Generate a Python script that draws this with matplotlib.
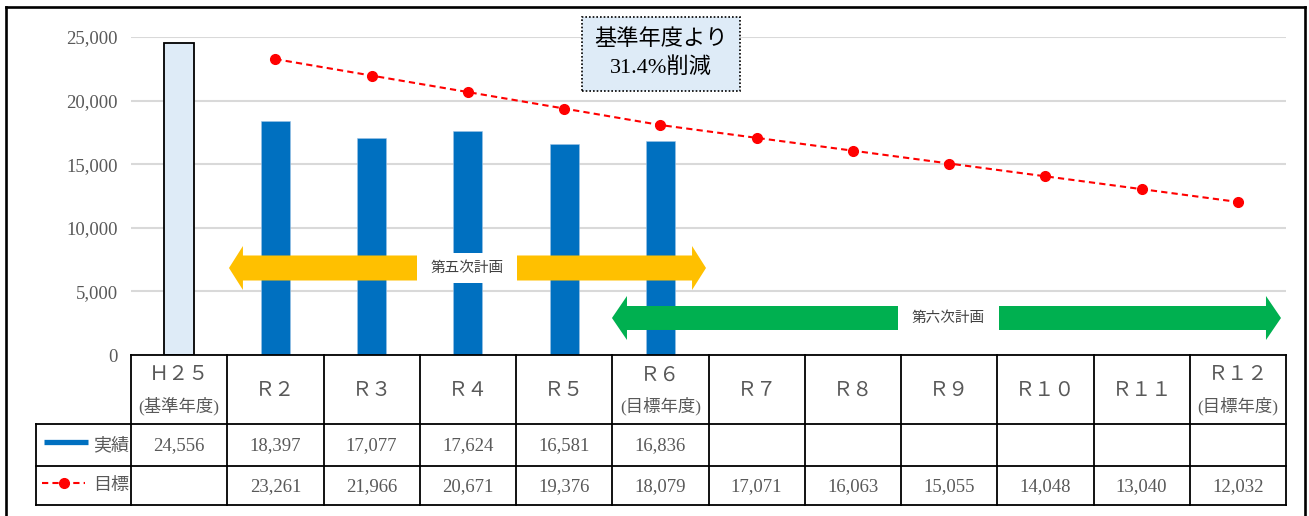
import matplotlib
matplotlib.use("Agg")
import matplotlib.pyplot as plt
from matplotlib.patches import Polygon, Rectangle
from matplotlib.lines import Line2D
from matplotlib.ticker import FuncFormatter

# ---------------- data ----------------
categories = ["Ｈ２５", "Ｒ２", "Ｒ３", "Ｒ４", "Ｒ５", "Ｒ６",
              "Ｒ７", "Ｒ８", "Ｒ９", "Ｒ１０", "Ｒ１１", "Ｒ１２"]
sublabels = ["(基準年度)", "", "", "", "", "(目標年度)",
             "", "", "", "", "", "(目標年度)"]
actual = [24556, 18397, 17077, 17624, 16581, 16836]          # H25..R6
target = [None, 23261, 21966, 20671, 19376, 18079, 17071, 16063, 15055, 14048, 13040, 12032]
series_names = ["実績", "目標"]
yticks = [0, 5000, 10000, 15000, 20000, 25000]
note_text = "基準年度より\n31.4%削減"
plan5_label = "第五次計画"
plan6_label = "第六次計画"

# ---------------- layout ----------------
W, H, DPI = 1309, 516, 100
FAM_NUM = ['Liberation Serif', 'Noto Sans CJK JP']
FAM_JP = ['Noto Sans CJK JP', 'DejaVu Sans']
GRAY = '#595959'
NUMSIZE = 13.5
AX_L, AX_R, AX_B, AX_T = 131, 1286, 355, 37
COLW = (AX_R - AX_L) / len(categories)

fig = plt.figure(figsize=(W / DPI, H / DPI), dpi=DPI)
fig.patch.set_facecolor('white')

ax = fig.add_axes([AX_L / W, 1 - AX_B / H, (AX_R - AX_L) / W, (AX_B - AX_T) / H])
ax.set_facecolor('none')
ax.set_xlim(-0.5, len(categories) - 0.5)
ax.set_ylim(0, 25000)
for s in ax.spines.values():
    s.set_visible(False)
ax.set_xticks([])
ax.set_yticks(yticks)
ax.yaxis.set_major_formatter(FuncFormatter(lambda v, p: f"{int(v):,}"))
ax.tick_params(axis='y', length=0, pad=9.5, labelcolor=GRAY, labelsize=NUMSIZE)
for lab in ax.get_yticklabels():
    lab.set_family(FAM_NUM)
ax.yaxis.grid(True, color='#D9D9D9', lw=1.5)
ax.set_axisbelow(True)

# bars
ax.bar([0], [actual[0]], width=0.31, color='#DEEBF7', edgecolor='black', lw=1.3, zorder=2)
ax.bar(list(range(1, len(actual))), actual[1:], width=0.30, color='#0070C0',
       edgecolor='#9DC3E6', lw=0.4, zorder=2)

# target line
tx = [i for i, v in enumerate(target) if v is not None]
ty = [v for v in target if v is not None]
ax.plot(tx, ty, color='#FF0000', ls=(0, (3, 2)), lw=1.5, marker='o', ms=7, zorder=3)

# arrows
def double_arrow(x0, x1, yc, sh, hh, hl, color):
    pts = [(x0, yc), (x0 + hl, yc + hh), (x0 + hl, yc + sh), (x1 - hl, yc + sh),
           (x1 - hl, yc + hh), (x1, yc), (x1 - hl, yc - hh), (x1 - hl, yc - sh),
           (x0 + hl, yc - sh), (x0 + hl, yc - hh)]
    ax.add_patch(Polygon(pts, closed=True, facecolor=color, edgecolor='none', zorder=4))

def arrow_label(xa, xb, yc, text):
    ax.add_patch(Rectangle((xa, yc - 1150), xb - xa, 2300, facecolor='white',
                           edgecolor='none', zorder=5))
    ax.text((xa + xb) / 2, yc, text, ha='center', va='center', fontsize=10.5,
            color='#404040', family=FAM_JP, zorder=6)

double_arrow(0.518, 5.474, 6840, 983, 1730, 0.145, '#FFC000')
arrow_label(2.471, 3.51, 6840, plan5_label)
double_arrow(4.497, 11.448, 2909, 943, 1730, 0.156, '#00B050')
arrow_label(7.469, 8.518, 2909, plan6_label)

# note box
ax.text(5.01, 23660, note_text, ha='center', va='center', fontsize=16, color='black',
        family=FAM_NUM, linespacing=1.45, zorder=6,
        bbox=dict(boxstyle='square,pad=0.55', facecolor='#DEEBF7', edgecolor='black',
                  lw=1.2, ls=(0, (1, 1.2))))

# ---------------- table overlay ----------------
ov = fig.add_axes([0, 0, 1, 1], zorder=5)
ov.set_xlim(0, W)
ov.set_ylim(H, 0)
ov.axis('off')
ov.patch.set_visible(False)

LEG_L = 36
R0, R1, R2, R3 = 355, 424, 466, 505
TLW = 1.3
def hline(y, x0, x1, lw=TLW):
    ov.add_line(Line2D([x0, x1], [y, y], color='black', lw=lw))
def vline(x, y0, y1, lw=TLW):
    ov.add_line(Line2D([x, x], [y0, y1], color='black', lw=lw))

hline(R0, AX_L, AX_R)
for y in (R1, R2, R3):
    hline(y, LEG_L, AX_R)
vline(LEG_L, R1, R3)
for i in range(len(categories) + 1):
    vline(AX_L + i * COLW, R0, R3)

for i, cat in enumerate(categories):
    cx = AX_L + (i + 0.5) * COLW
    if sublabels[i]:
        ov.text(cx, 375, cat, ha='center', va='center', fontsize=14.5,
                color=GRAY, family=FAM_JP)
        ov.text(cx, 406, sublabels[i], ha='center', va='center', fontsize=12.5,
                color=GRAY, family=FAM_NUM)
    else:
        ov.text(cx, 390, cat, ha='center', va='center', fontsize=14.5,
                color=GRAY, family=FAM_JP)
    if i < len(actual):
        ov.text(cx, (R1 + R2) / 2 + 1, f"{actual[i]:,}", ha='center', va='center',
                fontsize=NUMSIZE, color=GRAY, family=FAM_NUM)
    if target[i] is not None:
        ov.text(cx, (R2 + R3) / 2 + 1, f"{target[i]:,}", ha='center', va='center',
                fontsize=NUMSIZE, color=GRAY, family=FAM_NUM)

# legend cells
ov.add_line(Line2D([44, 88], [442, 442], color='#0070C0', lw=3.8, solid_capstyle='butt'))
ov.text(111, 445, series_names[0], ha='center', va='center', fontsize=13, color=GRAY,
        family=FAM_JP)
ov.add_line(Line2D([42, 85], [483, 483], color='#FF0000', lw=1.5, ls=(0, (3, 2))))
ov.add_line(Line2D([63.5], [483], color='#FF0000', marker='o', ms=7))
ov.text(111, 485, series_names[1], ha='center', va='center', fontsize=13, color=GRAY,
        family=FAM_JP)

# outer frame
BL = 1.9
ov.add_line(Line2D([6, 1305], [7, 7], color='black', lw=BL))
ov.add_line(Line2D([6, 6], [7, H + 5], color='black', lw=BL))
ov.add_line(Line2D([1305, 1305], [7, H + 5], color='black', lw=BL))

fig.savefig('out.png', dpi=DPI)
